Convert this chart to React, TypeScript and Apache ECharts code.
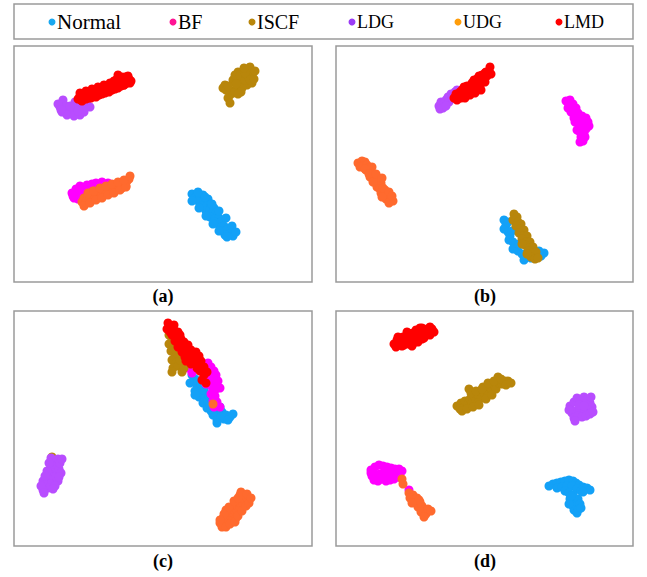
import React, { useEffect, useRef } from "react";
import * as echarts from "echarts";

const CLASSES = ["Normal", "BF", "ISCF", "LDG", "UDG", "LMD"];
const LEGEND_COLORS = ["#1aa8f0", "#ff1493", "#b8860b", "#9b3cf5", "#ff9d0a", "#ff0000"];
const POINT_COLORS = ["#13a1f7", "#ff00ff", "#b8860b", "#b84dff", "#ff6a2e", "#ff0000"];
const PANEL_LABELS = ["(a)", "(b)", "(c)", "(d)"];

// Panel (a) — coordinates in panel-relative units
const A_NORMAL = [[178,148],[183,148],[181,152],[186,151],[189,149],[185,156],[190,155],[194,153],[188,160],[193,160],[197,158],[192,165],[196,164],[200,162],[198,168],[202,167],[196,171],[201,173],[205,172],[203,177],[207,176],[206,181],[210,180],[209,185],[213,184],[215,188],[218,186],[211,189],[219,190],[200,176],[184,146],[191,151],[198,158],[205,165],[212,172],[218,180],[222,186],[178,155],[185,162],[192,170],[199,178],[205,185],[213,191]];
const A_BF = [[58,147],[59,150],[62,143],[65,146],[66,140],[70,142],[73,139],[75,143],[78,138],[82,137],[85,141],[88,136],[90,139],[94,137],[97,141],[100,144],[103,139],[106,142],[60,152],[68,149],[62,150],[70,146],[76,146],[84,144],[92,143],[100,141],[108,139],[64,153]];
const A_ISCF = [[236,21],[233,24],[238,29],[229,31],[224,26],[238,37],[233,39],[226,36],[219,34],[211,39],[209,42],[216,44],[223,42],[228,42],[216,49],[219,47],[214,52],[216,57],[221,29],[226,29],[231,34],[235,32],[222,38],[212,44],[231,27],[236,34],[240,33],[227,46],[224,48],[214,40],[241,25],[230,22]];
const A_LDG = [[49,54],[46,61],[48,66],[58,66],[66,69],[76,61],[71,62],[61,56],[52,60],[55,64],[63,62],[68,57],[73,55],[51,66],[44,58],[53,69],[60,70],[70,66],[64,65],[56,60],[47,64]];
const A_UDG = [[68,156],[70,152],[72,155],[74,150],[76,153],[78,149],[80,152],[82,147],[84,150],[86,146],[88,149],[90,145],[92,148],[94,143],[96,146],[98,142],[100,145],[102,140],[104,143],[106,139],[108,142],[110,137],[112,140],[113,135],[115,133],[71,158],[79,145],[70,160],[76,157],[82,154],[88,152],[94,149],[100,147],[106,144],[112,141],[74,147],[80,145],[86,142],[92,140],[98,138],[104,136],[110,134],[116,130]];
const A_LMD = [[64,53],[66,50],[67,54],[69,51],[71,49],[72,53],[74,50],[76,48],[77,52],[79,49],[81,47],[82,51],[84,46],[85,49],[87,45],[88,48],[90,44],[91,47],[93,43],[95,46],[96,42],[98,44],[99,40],[101,43],[103,39],[104,42],[106,37],[107,40],[109,36],[110,39],[112,34],[113,37],[115,33],[117,35],[105,34],[111,31],[104,29],[108,31],[100,35],[66,47],[72,45],[78,43],[84,41],[90,39],[96,37],[102,34],[108,32],[114,30],[68,55],[74,52],[80,50],[86,48],[92,45],[98,43],[104,41],[110,39],[116,37]];

// Panel (b)
const B_NORMAL = [[168,174],[170,179],[168,183],[172,186],[174,190],[173,194],[177,196],[179,200],[177,203],[182,205],[186,208],[190,210],[188,214],[195,212],[200,211],[205,210],[208,207],[203,205],[176,185],[172,176],[183,198],[192,206]];
const B_BF = [[230,55],[234,54],[233,59],[237,58],[236,63],[240,62],[238,67],[242,67],[246,70],[250,72],[241,72],[245,75],[243,78],[248,78],[246,82],[250,83],[244,86],[248,88],[245,91],[249,91],[239,76],[235,66],[232,62],[243,70],[252,76],[247,95],[241,84],[238,72],[253,80],[244,96]];
const B_ISCF = [[178,168],[181,171],[177,174],[182,176],[185,178],[180,180],[184,183],[188,184],[183,187],[187,190],[191,190],[186,193],[190,196],[194,196],[189,199],[193,202],[197,201],[192,205],[196,207],[200,206],[195,211],[199,213],[202,212],[186,198],[191,208]];
const B_LDG = [[103,60],[105,56],[108,58],[107,62],[110,54],[113,56],[112,51],[116,52],[115,48],[119,46],[118,50],[104,63],[110,60],[121,44]];
const B_UDG = [[22,117],[26,115],[29,116],[27,120],[31,119],[33,122],[30,124],[35,126],[37,129],[34,131],[39,133],[41,131],[38,136],[42,138],[45,137],[41,141],[44,143],[47,142],[45,147],[48,149],[51,148],[50,153],[54,152],[57,155],[43,134],[36,121],[24,121],[29,123],[33,128],[37,136],[40,128],[46,132],[49,144],[53,146],[46,151],[53,157],[56,150]];
const B_LMD = [[118,52],[122,50],[125,52],[120,48],[127,47],[130,49],[126,44],[132,44],[135,46],[131,40],[137,41],[140,43],[136,37],[142,37],[144,40],[141,33],[146,34],[149,36],[146,29],[151,30],[153,25],[154,21],[150,26],[129,52],[134,49],[124,46],[128,41],[138,34],[143,30],[149,27],[155,28],[139,47],[145,44],[121,54]];

// Panel (c)
const C_NORMAL = [[178,64],[181,68],[176,72],[183,74],[186,77],[181,80],[188,82],[185,86],[191,87],[189,92],[194,90],[193,97],[197,100],[201,98],[204,103],[199,104],[208,101],[212,104],[216,106],[210,108],[203,109],[206,96],[190,79],[195,84],[181,84],[184,70],[187,73],[196,94],[207,106],[214,109],[219,103],[203,112]];
const C_BF = [[194,52],[197,56],[200,60],[194,62],[198,65],[202,64],[196,70],[200,71],[204,70],[198,76],[202,78],[206,77],[197,83],[201,85],[199,90],[203,91],[206,96],[200,96],[174,57],[178,62],[190,60],[192,73]];
const C_ISCF = [[155,24],[158,28],[155,33],[160,35],[157,40],[161,44],[158,49],[162,52],[159,57],[164,55],[158,61],[168,61],[166,49],[163,42],[170,57],[38,146]];
const C_LDG = [[44,148],[40,150],[43,153],[38,155],[42,158],[36,158],[40,162],[35,163],[39,166],[33,166],[37,169],[32,171],[36,173],[30,175],[34,177],[29,179],[42,165],[45,158],[29,170],[33,160],[37,147],[46,152],[47,162],[44,170],[41,175],[31,165],[35,152],[27,175],[39,178],[30,182],[48,148],[45,166]];
const C_UDG = [[199,93],[208,216],[211,212],[209,207],[214,209],[213,204],[217,206],[216,201],[220,203],[219,198],[223,199],[222,194],[226,196],[225,191],[229,192],[228,187],[231,189],[226,184],[234,188],[218,210],[212,199],[222,207],[230,184],[206,212],[212,216],[216,213],[221,211],[224,205],[228,200],[232,195],[235,192],[210,203],[215,196],[220,190],[224,187],[227,181],[233,183],[237,187],[206,209]];
const C_LMD = [[154,12],[157,16],[153,18],[160,19],[164,21],[158,24],[163,26],[166,24],[161,30],[166,32],[170,31],[164,36],[169,37],[174,34],[168,41],[173,42],[177,39],[180,43],[176,46],[181,48],[185,45],[179,52],[184,53],[187,50],[190,56],[186,60],[190,64],[193,61],[188,69],[192,72],[171,46],[175,38],[178,45],[182,41],[172,50],[177,53],[185,52],[183,57],[167,28],[160,14],[156,21]];

// Panel (d)
const D_NORMAL = [[213,175],[217,173],[221,172],[225,171],[229,170],[233,169],[237,170],[240,172],[243,174],[247,176],[251,177],[254,179],[221,177],[226,176],[231,175],[236,175],[241,178],[245,180],[229,180],[233,182],[237,184],[234,188],[238,190],[242,188],[236,194],[240,195],[244,193],[238,199],[242,199],[247,181],[233,193],[241,202],[245,197],[235,185]];
const D_BF = [[35,159],[39,156],[43,154],[47,155],[51,156],[55,157],[59,158],[63,158],[66,160],[60,163],[56,165],[52,164],[48,163],[44,163],[40,164],[36,165],[38,169],[42,170],[46,168],[50,170],[54,169],[58,168],[62,166],[35,162],[73,179]];
const D_ISCF = [[121,95],[125,92],[124,98],[128,96],[129,90],[132,93],[133,78],[134,88],[136,92],[138,85],[140,89],[142,84],[144,80],[145,87],[148,82],[150,78],[152,84],[154,76],[156,80],[158,74],[160,78],[162,66],[163,72],[166,73],[169,70],[172,70],[142,92],[147,76],[126,100],[131,98],[137,96],[143,94],[135,82],[140,80],[146,78],[152,72],[158,70],[165,68],[170,74],[175,72],[150,88],[156,84]];
const D_LDG = [[234,95],[238,91],[241,87],[244,90],[248,86],[251,89],[254,92],[256,96],[252,99],[248,102],[244,100],[240,100],[236,102],[238,107],[242,105],[246,106],[250,105],[254,103],[257,101],[243,94],[248,95],[233,99],[255,86],[239,110]];
const D_UDG = [[66,168],[67,173],[73,182],[77,184],[74,187],[78,189],[81,187],[80,192],[84,191],[82,196],[86,195],[88,199],[85,201],[90,203],[92,198],[95,200],[88,206],[83,189],[76,192]];
const D_LMD = [[58,33],[61,29],[63,34],[65,30],[67,26],[68,34],[70,30],[72,25],[73,33],[75,29],[77,22],[77,26],[79,31],[81,27],[82,21],[84,24],[86,28],[88,20],[89,24],[91,18],[93,22],[96,18],[71,21],[66,35],[84,17],[60,36],[64,32],[69,27],[74,23],[80,19],[86,17],[94,16],[76,35],[82,31],[88,27],[94,24],[98,21],[62,26]];

const PANEL_DATA = [
  [A_NORMAL, A_BF, A_ISCF, A_LDG, A_UDG, A_LMD],
  [B_NORMAL, B_BF, B_ISCF, B_LDG, B_UDG, B_LMD],
  [C_NORMAL, C_BF, C_ISCF, C_LDG, C_UDG, C_LMD],
  [D_NORMAL, D_BF, D_ISCF, D_LDG, D_UDG, D_LMD],
];

const GRIDS = [
  { left: 14, top: 46, width: 298, height: 236 },
  { left: 336, top: 46, width: 297, height: 236 },
  { left: 14, top: 311, width: 298, height: 235 },
  { left: 336, top: 311, width: 297, height: 235 },
];
const LABEL_POS = [[163, 296], [485, 296], [163, 561], [485, 561]];
const LEGEND_DOT_X = [52, 173, 252, 352, 458, 559];
const LEGEND_FONT = [21, 20, 20, 18, 18, 18];

const SERIF = "Liberation Serif";

export default function App() {
  const ref = useRef<HTMLDivElement>(null);
  useEffect(() => {
    document.body.style.margin = "0";
    if (!ref.current) return;
    const chart = echarts.init(ref.current, null, { renderer: "svg" });
    const grid = GRIDS.map((g) => ({
      ...g,
      show: true,
      borderColor: "#9a9a9a",
      borderWidth: 1.5,
      backgroundColor: "#fff",
      containLabel: false,
    }));
    const hidden = { show: false };
    const xAxis = GRIDS.map((g, i) => ({
      type: "value", gridIndex: i, min: 0, max: g.width,
      axisLine: hidden, axisTick: hidden, axisLabel: hidden, splitLine: hidden,
    }));
    const yAxis = GRIDS.map((g, i) => ({
      type: "value", gridIndex: i, min: 0, max: g.height, inverse: true,
      axisLine: hidden, axisTick: hidden, axisLabel: hidden, splitLine: hidden,
    }));
    const series: any[] = [];
    PANEL_DATA.forEach((panel, p) => {
      panel.forEach((pts, c) => {
        series.push({
          type: "scatter",
          name: CLASSES[c],
          xAxisIndex: p,
          yAxisIndex: p,
          data: pts,
          symbolSize: 9,
          itemStyle: { color: POINT_COLORS[c], opacity: 1 },
          silent: true,
        });
      });
    });
    const graphic: any[] = [
      {
        type: "rect",
        shape: { x: 14, y: 4, width: 619, height: 35 },
        style: { fill: "#fff", stroke: "#9a9a9a", lineWidth: 1.5 },
      },
    ];
    CLASSES.forEach((name, i) => {
      graphic.push({
        type: "circle",
        shape: { cx: LEGEND_DOT_X[i], cy: 22, r: 3.5 },
        style: { fill: LEGEND_COLORS[i] },
      });
      graphic.push({
        type: "text",
        x: LEGEND_DOT_X[i] + 5,
        y: 22,
        style: {
          text: name,
          fill: "#000",
          fontFamily: SERIF,
          fontSize: LEGEND_FONT[i],
          textAlign: "left",
          textVerticalAlign: "middle",
        },
      });
    });
    PANEL_LABELS.forEach((lab, i) => {
      graphic.push({
        type: "text",
        x: LABEL_POS[i][0],
        y: LABEL_POS[i][1],
        style: {
          text: lab,
          fill: "#000",
          fontFamily: SERIF,
          fontSize: 18,
          fontWeight: "bold",
          textAlign: "center",
          textVerticalAlign: "middle",
        },
      });
    });
    chart.setOption({
      animation: false,
      backgroundColor: "#fff",
      grid,
      xAxis,
      yAxis,
      series,
      graphic,
    });
    return () => chart.dispose();
  }, []);
  return <div ref={ref} style={{ width: 647, height: 577 }} />;
}
